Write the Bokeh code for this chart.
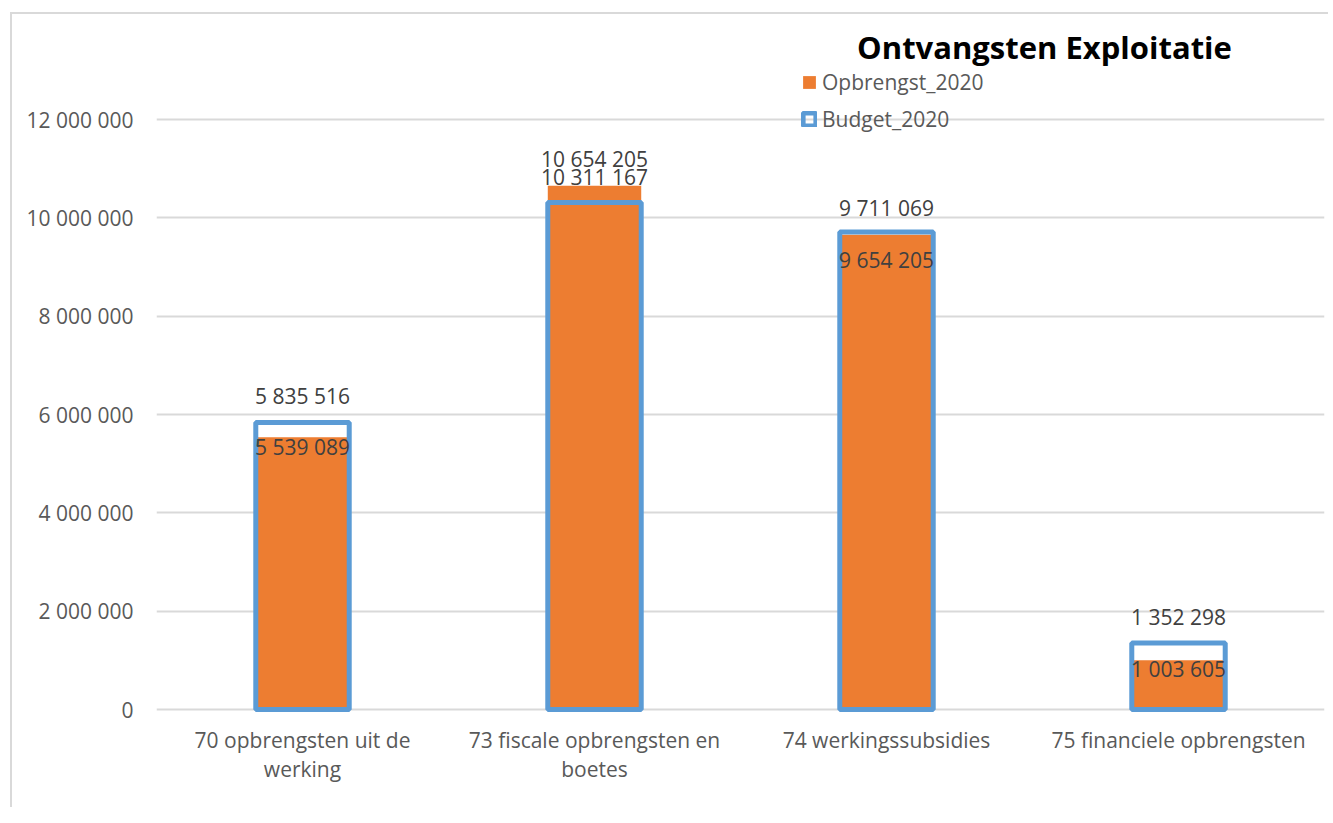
from bokeh.plotting import figure
from bokeh.models import (ColumnDataSource, FixedTicker, Legend, LegendItem, Label)
from bokeh.core.properties import value
from bokeh.embed import file_html
from bokeh.resources import INLINE

# ---- data ----
categories = ["70 opbrengsten uit de werking", "73 fiscale opbrengsten en boetes",
              "74 werkingssubsidies", "75 financiele opbrengsten"]
category_labels = ["70 opbrengsten uit de\nwerking", "73 fiscale opbrengsten en\nboetes",
                   "74 werkingssubsidies", "75 financiele opbrengsten"]
opbrengst_2020 = [5539089, 10654205, 9654205, 1003605]
budget_2020 = [5835516, 10311167, 9711069, 1352298]
y_ticks = [0, 2000000, 4000000, 6000000, 8000000, 10000000, 12000000]

# label placement tweaks (screen px)
opbrengst_label_offset = [10, -27, 25, 9]
budget_label_offset = [-27, -26, -24, -26]

def fmt(v):
    return f"{v:,}".replace(",", " ")

FONT = "Open Sans"
ORANGE = "#ED7D31"
BLUE = "#5B9BD5"
GRID = "#D9D9D9"

src = ColumnDataSource(dict(
    cat=categories,
    opb=opbrengst_2020,
    bud=budget_2020,
    opb_txt=[fmt(v) for v in opbrengst_2020],
    bud_txt=[fmt(v) for v in budget_2020],
    opb_off=opbrengst_label_offset,
    bud_off=budget_label_offset,
))
cat_src = ColumnDataSource(dict(cat=categories, lbl=category_labels,
                                zero=[0] * len(categories)))

# frame geometry (screen px)
px_per_12m = 590.0
above_top = 695      # px from zero up to frame top
below_zero = 96      # px from zero down to frame bottom
frame_h = above_top + below_zero
y_end = 12000000 * above_top / px_per_12m
y_start = -12000000 * below_zero / px_per_12m

p = figure(x_range=categories, y_range=(y_start, y_end), width=1318, height=frame_h + 4,
           output_backend="svg", toolbar_location=None,
           min_border_left=144, min_border_right=6, min_border_top=0,
           min_border_bottom=4)
p.styles = {"margin-left": "10px", "margin-top": "12px",
            "border-left": f"2px solid {GRID}", "border-top": f"2px solid {GRID}"}
p.outline_line_color = None
p.background_fill_color = "white"
p.border_fill_color = "white"

r_opb = p.vbar(x="cat", top="opb", width=0.32, source=src,
               fill_color=ORANGE, line_color=None)
r_bud = p.vbar(x="cat", top="bud", width=0.32, source=src,
               fill_color=None, line_color=BLUE, line_width=5)

p.text(x="cat", y="bud", text="bud_txt", y_offset="bud_off", source=src,
       text_align="center", text_baseline="middle", text_color="#404040",
       text_font=value(FONT), text_font_size="21px")
p.text(x="cat", y="opb", text="opb_txt", y_offset="opb_off", source=src,
       text_align="center", text_baseline="middle", text_color="#404040",
       text_font=value(FONT), text_font_size="21px")

# category labels (multi-line) placed under the zero line
p.text(x="cat", y="zero", text="lbl", y_offset=16, source=cat_src,
       text_align="center", text_baseline="top", text_color="#595959",
       text_font=value(FONT), text_font_size="21px", text_line_height=1.05)

# axes
p.yaxis.ticker = FixedTicker(ticks=y_ticks)
p.yaxis.major_label_overrides = {t: fmt(t) for t in y_ticks}
p.yaxis.axis_line_color = None
p.yaxis.major_tick_line_color = None
p.yaxis.minor_tick_line_color = None
p.yaxis.major_label_standoff = 17
p.yaxis.major_label_text_font = FONT
p.yaxis.major_label_text_font_size = "21px"
p.yaxis.major_label_text_color = "#595959"

p.xaxis.visible = False

p.xgrid.grid_line_color = None
p.ygrid.grid_line_color = GRID
p.ygrid.grid_line_width = 2
p.ygrid.ticker = FixedTicker(ticks=y_ticks)

legend = Legend(items=[LegendItem(label="Opbrengst_2020", renderers=[r_opb]),
                       LegendItem(label="Budget_2020", renderers=[r_bud])],
                location=(645, 672), orientation="vertical",
                glyph_width=16, glyph_height=16, label_height=24, spacing=9,
                label_standoff=5, padding=0, margin=0,
                border_line_color=None, background_fill_alpha=0,
                label_text_font=FONT, label_text_font_size="21px",
                label_text_color="#595959")
p.add_layout(legend, "center")

title = Label(x=888, y=frame_h - 32, x_units="screen", y_units="screen",
              text="Ontvangsten Exploitatie", text_align="center", text_baseline="middle",
              text_font=FONT, text_font_size="31px", text_font_style="bold",
              text_color="black")
p.add_layout(title)

open("out.html", "w").write(file_html(p, INLINE))
